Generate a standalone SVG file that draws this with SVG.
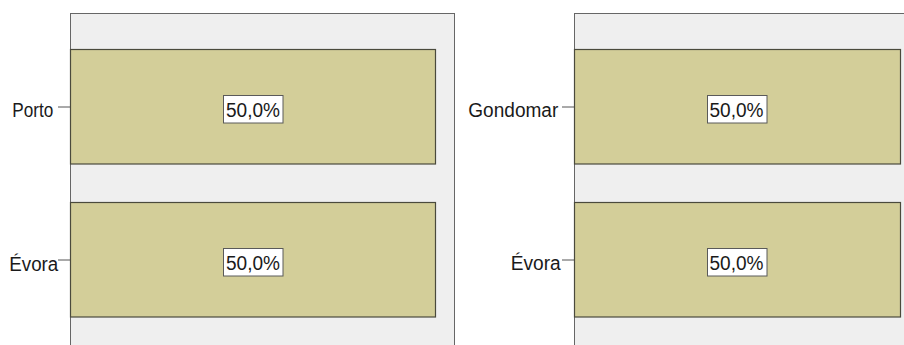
<svg xmlns="http://www.w3.org/2000/svg" width="904" height="345" viewBox="0 0 904 345">
<style>
.bg{fill:#ffffff}
.frame{fill:#efefef;stroke:#666666;stroke-width:1}
.bar{fill:#d3ce99;stroke:#4a4a3c;stroke-width:1.2}
.tick{stroke:#555555;stroke-width:1}
.lbl{font-family:"Liberation Sans",Arial,sans-serif;font-size:20px;fill:#1a1a1a}
.vbox{fill:#ffffff;stroke:#5a5a5a;stroke-width:1}
.val{font-family:"Liberation Sans",Arial,sans-serif;font-size:20px;fill:#1a1a1a}
</style>
<rect class="bg" x="0" y="0" width="904" height="345"/>
<g id="panel-left">
<rect class="frame" x="70.5" y="13.5" width="384" height="340"/>
</g>
<g id="panel-right">
<rect class="frame" x="574.5" y="13.5" width="340" height="340"/>
</g>
<g id="connectors">
<line class="tick" x1="58" y1="107" x2="70" y2="107"/>
<line class="tick" x1="58" y1="260" x2="70" y2="260"/>
<line class="tick" x1="562" y1="107" x2="574" y2="107"/>
<line class="tick" x1="562" y1="260" x2="574" y2="260"/>
</g>
<g id="bar-left-porto">
<rect class="bar" x="70.5" y="49.5" width="365" height="114.5"/>
<rect class="vbox" x="223.5" y="95.5" width="59.5" height="27.5"/>
<text class="val" x="226" y="116.5" textLength="54" lengthAdjust="spacingAndGlyphs">50,0%</text>
</g>
<g id="bar-left-evora">
<rect class="bar" x="70.5" y="202.5" width="365" height="114.5"/>
<rect class="vbox" x="223.5" y="248.5" width="59.5" height="27.5"/>
<text class="val" x="226" y="270" textLength="54" lengthAdjust="spacingAndGlyphs">50,0%</text>
</g>
<g id="bar-right-gondomar">
<rect class="bar" x="574.5" y="49.5" width="326" height="114.5"/>
<rect class="vbox" x="707.5" y="95.5" width="59.5" height="27.5"/>
<text class="val" x="709.5" y="116.5" textLength="54" lengthAdjust="spacingAndGlyphs">50,0%</text>
</g>
<g id="bar-right-evora">
<rect class="bar" x="574.5" y="202.5" width="326" height="114.5"/>
<rect class="vbox" x="707.5" y="248.5" width="59.5" height="27.5"/>
<text class="val" x="709.5" y="270" textLength="54" lengthAdjust="spacingAndGlyphs">50,0%</text>
</g>
<g id="label-porto"><text class="lbl" x="12.3" y="116.5" textLength="41" lengthAdjust="spacingAndGlyphs">Porto</text></g>
<g id="label-evora-left"><text class="lbl" x="9.3" y="270.5" textLength="49" lengthAdjust="spacingAndGlyphs">Évora</text></g>
<g id="label-gondomar"><text class="lbl" x="468.3" y="116.5" textLength="90" lengthAdjust="spacingAndGlyphs">Gondomar</text></g>
<g id="label-evora-right"><text class="lbl" x="510.7" y="270" textLength="50" lengthAdjust="spacingAndGlyphs">Évora</text></g>
</svg>
